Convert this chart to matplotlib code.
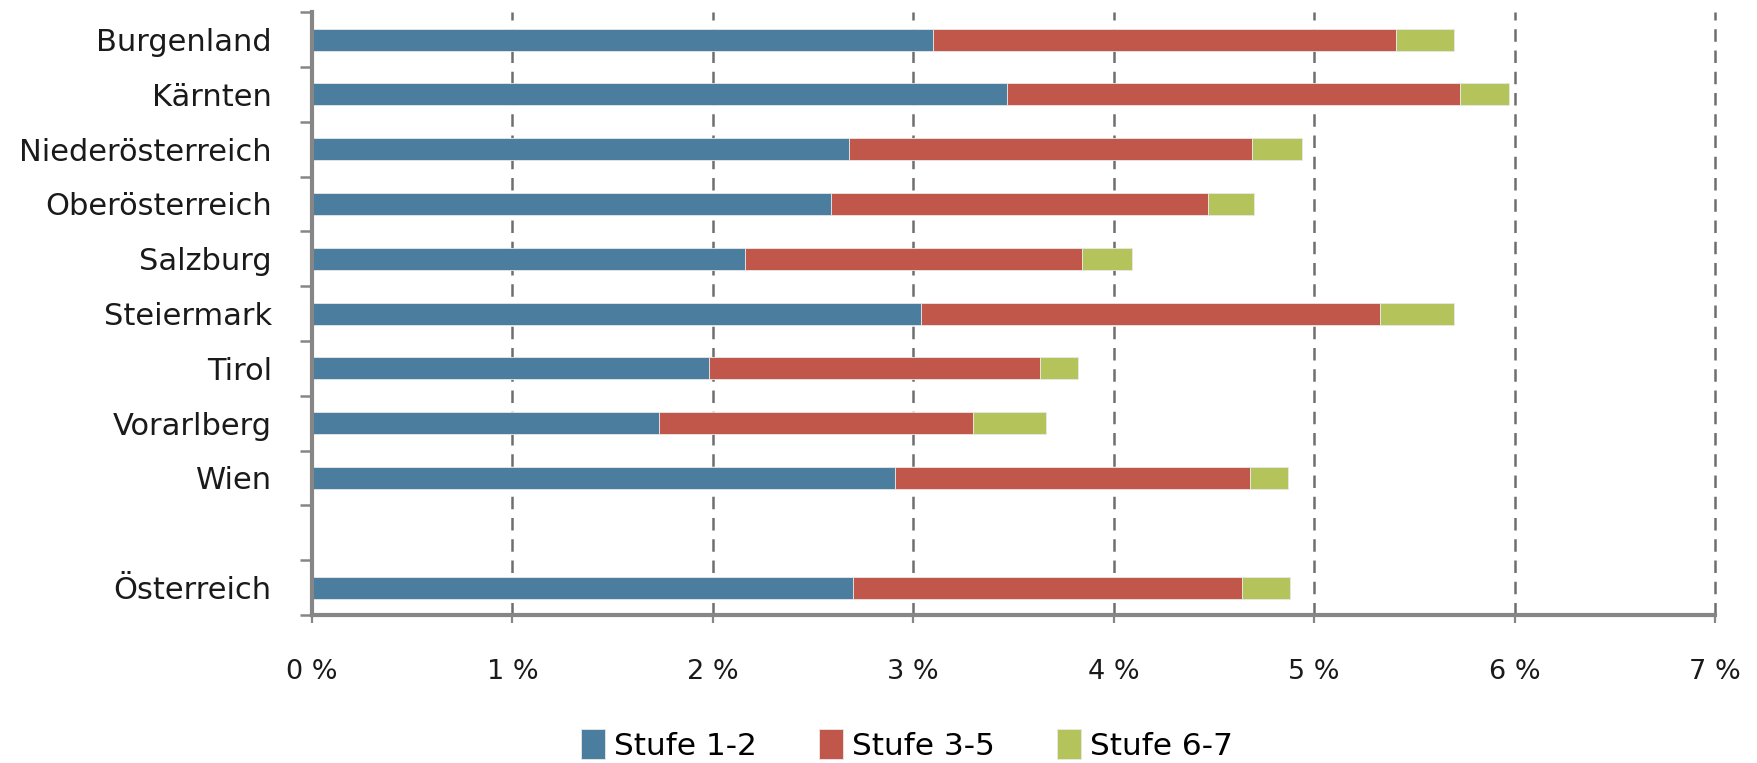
import matplotlib.pyplot as plt
import numpy as np

# Anteil der Pflegegeldbezieher nach Stufen, in Prozent
laender = ['Burgenland', 'Kärnten', 'Niederösterreich', 'Oberösterreich',
           'Salzburg', 'Steiermark', 'Tirol', 'Vorarlberg', 'Wien', '',
           'Österreich']
stufe_1_2 = [3.10, 3.47, 2.68, 2.59, 2.16, 3.04, 1.98, 1.73, 2.91, 0, 2.70]
stufe_3_5 = [2.31, 2.26, 2.01, 1.88, 1.68, 2.29, 1.65, 1.57, 1.77, 0, 1.94]
stufe_6_7 = [0.29, 0.24, 0.25, 0.23, 0.25, 0.37, 0.19, 0.36, 0.19, 0, 0.24]
serien = ['Stufe 1-2', 'Stufe 3-5', 'Stufe 6-7']
farben = ['#4a7d9e', '#c1574a', '#b4c45a']
x_ticks = [0, 1, 2, 3, 4, 5, 6, 7]

plt.rcParams['font.family'] = 'DejaVu Sans'
fig = plt.figure(figsize=(17.58, 7.63), dpi=100)
ax = fig.add_axes([0.1775, 0.194, 0.798, 0.79])

y = np.arange(len(laender))
links = np.zeros(len(laender))
for werte, name, farbe in zip([stufe_1_2, stufe_3_5, stufe_6_7], serien, farben):
    ax.barh(y, werte, left=links, height=0.4, color=farbe, label=name,
            edgecolor='#e8e8e8', linewidth=0.6, zorder=3)
    links = links + np.array(werte)

ax.set_xlim(0, 7)
ax.set_ylim(len(laender) - 0.5, -0.5)

# Kategorienamen mittig, Teilstriche an den Grenzen
ax.set_yticks(y)
ax.set_yticklabels(laender)
ax.set_yticks(np.arange(len(laender) + 1) - 0.5, minor=True)
ax.tick_params(axis='y', which='major', length=0, pad=29, labelsize=22,
               labelcolor='#1a1a1a')
ax.tick_params(axis='y', which='minor', length=8.6, width=1.8, color='#868686')

ax.set_xticks(x_ticks)
ax.set_xticklabels([f'{v} %' for v in x_ticks])
ax.tick_params(axis='x', length=5.8, width=1.6, color='#868686', pad=26,
               labelsize=19.5, labelcolor='#1a1a1a')

ax.grid(axis='x', color='#6e6e6e', linestyle=(0, (5, 3.5)), linewidth=1.8,
        zorder=1)
ax.grid(axis='y', visible=False)
# letzte Gitterlinie liegt am Rand, nicht abschneiden
for gl in ax.get_xgridlines():
    gl.set_clip_on(False)

for s in ['top', 'right']:
    ax.spines[s].set_visible(False)
for s in ['left', 'bottom']:
    ax.spines[s].set_color('#868686')
    ax.spines[s].set_linewidth(3)
    ax.spines[s].set_zorder(4)

fig.legend(loc='center', bbox_to_anchor=(0.516, 0.024), ncol=3, frameon=False,
           fontsize=22.5, handlelength=0.75, handleheight=1.1,
           handletextpad=0.3, columnspacing=2.0)

plt.savefig('out.png', dpi=100)
